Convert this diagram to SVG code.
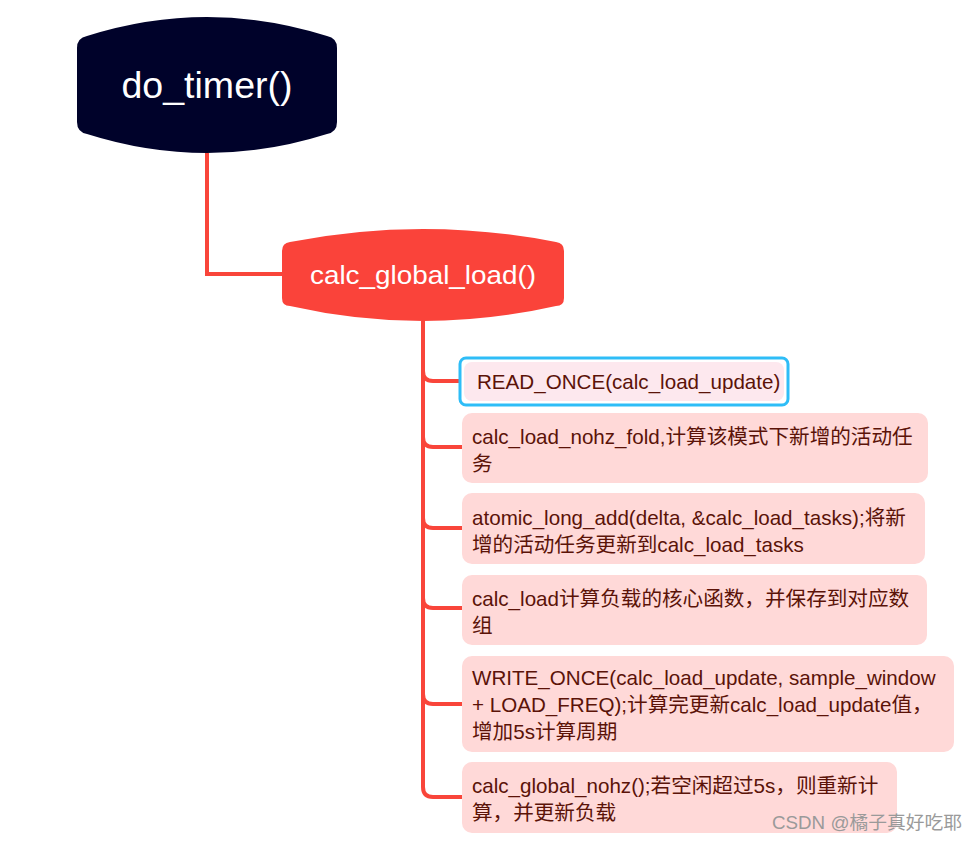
<svg xmlns="http://www.w3.org/2000/svg" width="978" height="843" viewBox="0 0 978 843">
<style>
.conn{fill:none;stroke:#F9453A;stroke-width:4;}
.child{fill:#FFD9D8;}
.ct{font-family:"Liberation Sans","Noto Sans CJK SC",sans-serif;font-size:20.6px;fill:#5B1308;}
.title{font-family:"Liberation Sans","Noto Sans CJK SC",sans-serif;fill:#FFFFFF;text-anchor:middle;}
.wm{font-family:"Liberation Sans","Noto Sans CJK SC",sans-serif;font-size:18.5px;fill:#9A9A9A;}
</style>
<rect width="978" height="843" fill="#FFFFFF"/>
<g id="connectors">
<path class="conn" d="M207,153 L207,274 L283,274"/>
<path class="conn" d="M423,321 L423,787 Q423,797 433,797 L463,797"/>
<path class="conn" d="M423,371 Q423,381 433,381 L463,381"/>
<path class="conn" d="M423,437 Q423,447 433,447 L463,447"/>
<path class="conn" d="M423,518 Q423,528 433,528 L463,528"/>
<path class="conn" d="M423,598 Q423,608 433,608 L463,608"/>
<path class="conn" d="M423,694 Q423,704 433,704 L463,704"/>
</g>
<g id="do_timer">
<path d="M77,48 Q77,38 87,36 Q207,-2 327,36 Q337,38 337,48 L337,122 Q337,132 327,134 Q207,172 87,134 Q77,132 77,122 Z" fill="#00022A"/>
<text class="title" x="207" y="98" font-size="36" textLength="171" lengthAdjust="spacingAndGlyphs">do_timer()</text>
</g>
<g id="calc_global_load">
<path d="M282,251 Q282,243 290,242 Q423,216 556,242 Q564,243 564,251 L564,298 Q564,306 556,306 Q423,336 290,306 Q282,306 282,298 Z" fill="#FA433A"/>
<text class="title" x="423" y="284" font-size="25" textLength="226" lengthAdjust="spacingAndGlyphs">calc_global_load()</text>
</g>
<g id="read_once">
<rect x="460" y="358" width="328" height="47" rx="6" fill="#FFFFFF" stroke="#2EBDF7" stroke-width="3"/>
<rect x="464" y="362" width="320" height="39" rx="8" fill="#FDE8EE"/>
<text class="ct" x="477" y="389">READ_ONCE(calc_load_update)</text>
</g>
<g id="nohz_fold">
<rect class="child" x="462" y="413" width="466" height="70" rx="10"/>
<text class="ct" x="472" y="444">calc_load_nohz_fold,计算该模式下新增的活动任</text>
<text class="ct" x="472" y="471">务</text>
</g>
<g id="atomic_add">
<rect class="child" x="462" y="493" width="463" height="71" rx="10"/>
<text class="ct" x="472" y="525">atomic_long_add(delta, &amp;calc_load_tasks);将新</text>
<text class="ct" x="472" y="552">增的活动任务更新到calc_load_tasks</text>
</g>
<g id="calc_load">
<rect class="child" x="462" y="575" width="465" height="70" rx="10"/>
<text class="ct" x="472" y="606">calc_load计算负载的核心函数，并保存到对应数</text>
<text class="ct" x="472" y="633">组</text>
</g>
<g id="write_once">
<rect class="child" x="462" y="656" width="492" height="96" rx="10"/>
<text class="ct" x="472" y="685">WRITE_ONCE(calc_load_update, sample_window</text>
<text class="ct" x="472" y="712">+ LOAD_FREQ);计算完更新calc_load_update值，</text>
<text class="ct" x="472" y="739">增加5s计算周期</text>
</g>
<g id="global_nohz">
<rect class="child" x="462" y="762" width="435" height="71" rx="10"/>
<text class="ct" x="472" y="793">calc_global_nohz();若空闲超过5s，则重新计</text>
<text class="ct" x="472" y="820">算，并更新负载</text>
</g>
<text class="wm" x="772" y="829" textLength="190" lengthAdjust="spacingAndGlyphs">CSDN @橘子真好吃耶</text>
</svg>
